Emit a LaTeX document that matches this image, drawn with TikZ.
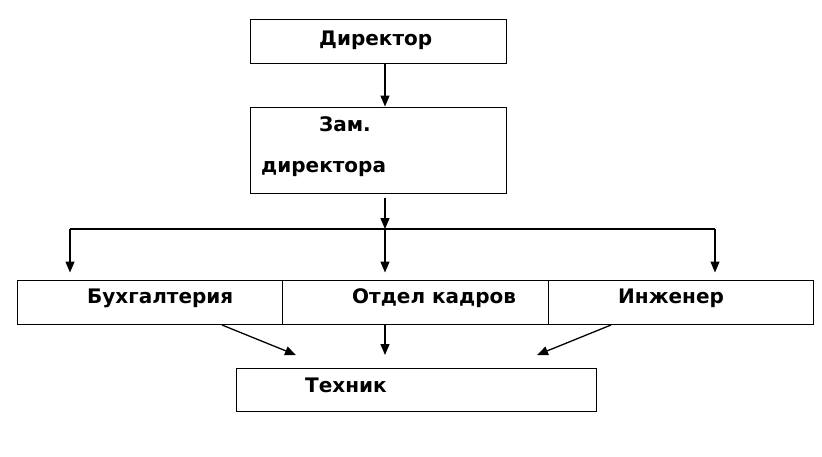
\documentclass[tikz,border=0pt]{standalone}
\usepackage{fontspec}
\setmainfont{DejaVu Sans}
\usetikzlibrary{arrows.meta,positioning}

\begin{document}
\begin{tikzpicture}[x=1pt,y=-1pt,
    box/.style={draw,line width=1pt,inner sep=0pt},
    lbl/.style={font=\fontsize{20}{23}\selectfont\bfseries,inner sep=0pt,anchor=base west},
    arr/.style={-{Triangle[length=11pt,width=9pt]},line width=1.3pt}]
  \useasboundingbox (0,0) rectangle (822,456);
  % boxes
  \node[box,minimum width=256pt,minimum height=44pt] (dir) at (378,41) {};
  \node[box,minimum width=256pt,minimum height=86pt] (zam) at (378,150) {};
  \node[box,minimum width=265pt,minimum height=44pt] (buh) at (149.5,302) {};
  \node[box,minimum width=266pt,minimum height=44pt] (otd) at (415,302) {};
  \node[box,minimum width=265pt,minimum height=44pt] (ing) at (680.5,302) {};
  \node[box,minimum width=360pt,minimum height=43pt] (teh) at (416,389.5) {};
  % labels
  \node[lbl] (tdir) at (319,45) {Директор};
  \node[lbl] (tzam1) at (319,131) {Зам.};
  \node[lbl] (tzam2) at (261,172) {директора};
  \node[lbl] (tbuh) at (87,303) {Бухгалтерия};
  \node[lbl] (totd) at (352,303) {Отдел кадров};
  \node[lbl] (ting) at (618,303) {Инженер};
  \node[lbl] (tteh) at (305,392) {Техник};
  % bus
  \coordinate (zout) at (385,198);
  \coordinate (bus) at (385,229);
  \coordinate (busL) at (70,229);
  \coordinate (busR) at (715,229);
  \draw[arr] (dir.south -| bus) -- (zam.north -| bus);
  \draw[arr] (zout) -- (bus);
  \draw[line width=1.3pt] (busL) -- (busR);
  \draw[arr,shorten >=7pt] (busL) -- (busL |- buh.north);
  \draw[arr,shorten >=7pt] (bus) -- (bus |- otd.north);
  \draw[arr,shorten >=7pt] (busR) -- (busR |- ing.north);
  % to Техник
  \coordinate (s1) at (222,325);
  \coordinate (e1) at (296,355);
  \coordinate (e2) at (385,355);
  \coordinate (s3) at (611,325);
  \coordinate (e3) at (537,355);
  \draw[arr] (s1) -- (e1);
  \draw[arr] (buh.south -| e2) -- (e2);
  \draw[arr] (s3) -- (e3);
\end{tikzpicture}
\end{document}
